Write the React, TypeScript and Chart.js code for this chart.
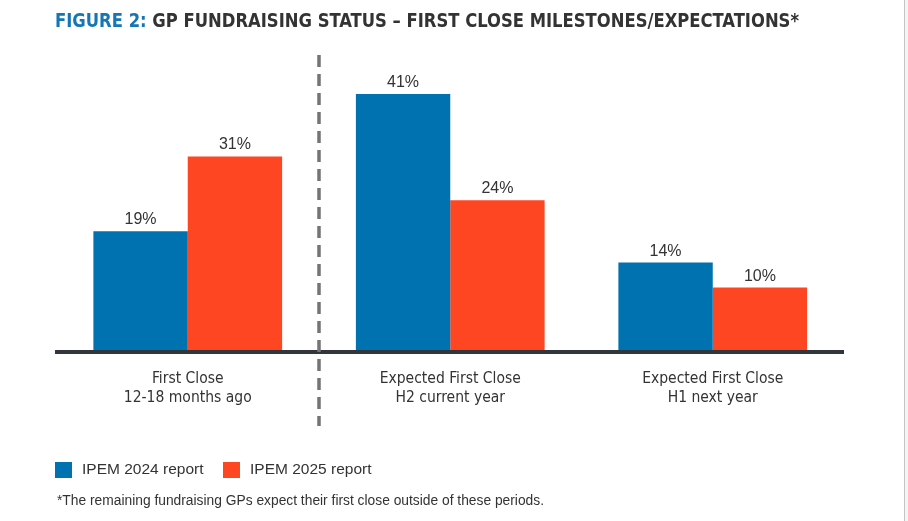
import React, { useEffect, useRef } from "react";
import { Chart, registerables } from "chart.js";

Chart.register(...registerables);

const categories: string[][] = [
  ["First Close", "12-18 months ago"],
  ["Expected First Close", "H2 current year"],
  ["Expected First Close", "H1 next year"],
];
const series2024: number[] = [19, 41, 14];
const series2025: number[] = [31, 24, 10];
const seriesNames: string[] = ["IPEM 2024 report", "IPEM 2025 report"];
const titleLead = "FIGURE 2:";
const titleRest = " GP FUNDRAISING STATUS \u2013 FIRST CLOSE MILESTONES/EXPECTATIONS*";
const footnote = "*The remaining fundraising GPs expect their first close outside of these periods.";

const BLUE = "#0072B0";
const ORANGE = "#FF4622";
const DARK = "#333333";
const NARROW = '"Liberation Sans Narrow", "DejaVu Sans Condensed", "Liberation Sans", sans-serif';
const SANS = '"Liberation Sans", Arial, sans-serif';

const decorPlugin = {
  id: "decor",
  afterDraw(chart: any) {
    const ctx = chart.ctx as CanvasRenderingContext2D;
    const area = chart.chartArea;
    const xs = chart.scales.x;
    ctx.save();

    // right edge
    ctx.fillStyle = "#f4f4f4";
    ctx.fillRect(905, 0, 3, chart.height);
    ctx.fillStyle = "#c4c4c4";
    ctx.fillRect(904, 0, 1, chart.height);

    // baseline
    ctx.fillStyle = "#31353D";
    ctx.fillRect(area.left - 1.5, area.bottom, area.right - area.left + 1.5, 4);

    // dashed divider
    const dx = (xs.getPixelForValue(0) + xs.getPixelForValue(1)) / 2;
    ctx.strokeStyle = "#747474";
    ctx.lineWidth = 3.5;
    ctx.setLineDash([12, 7]);
    ctx.beginPath();
    ctx.moveTo(dx, 55);
    ctx.lineTo(dx, 426);
    ctx.stroke();
    ctx.setLineDash([]);

    // value labels
    ctx.font = `16px ${SANS}`;
    ctx.fillStyle = DARK;
    ctx.textAlign = "center";
    ctx.textBaseline = "alphabetic";
    chart.data.datasets.forEach((ds: any, di: number) => {
      const meta = chart.getDatasetMeta(di);
      meta.data.forEach((bar: any, i: number) => {
        ctx.fillText(`${ds.data[i]}%`, bar.x, bar.y - 7);
      });
    });

    // title
    ctx.textAlign = "left";
    ctx.font = `bold 19px ${NARROW}`;
    const w1 = ctx.measureText(titleLead).width;
    const w2 = ctx.measureText(titleRest).width;
    const sx = 744 / (w1 + w2);
    ctx.save();
    ctx.translate(55, 27);
    ctx.scale(sx, 1);
    ctx.fillStyle = "#1576B5";
    ctx.fillText(titleLead, 0, 0);
    ctx.fillStyle = DARK;
    ctx.fillText(titleRest, w1, 0);
    ctx.restore();

    // legend
    ctx.font = `15.5px ${SANS}`;
    ctx.textBaseline = "middle";
    const legendX = [55, 223];
    chart.data.datasets.forEach((ds: any, di: number) => {
      const x = legendX[di];
      ctx.fillStyle = ds.backgroundColor;
      ctx.fillRect(x, 462, 17, 16);
      ctx.fillStyle = DARK;
      ctx.fillText(ds.label, x + 27, 470);
    });

    // footnote
    ctx.font = `13.8px ${SANS}`;
    ctx.textBaseline = "alphabetic";
    ctx.fillStyle = DARK;
    ctx.fillText(footnote, 57, 505);

    ctx.restore();
  },
};

export default function App() {
  const ref = useRef<HTMLCanvasElement | null>(null);
  useEffect(() => {
    if (!ref.current) return;
    const chart = new Chart(ref.current, {
      type: "bar",
      data: {
        labels: categories,
        datasets: [
          { label: seriesNames[0], data: series2024, backgroundColor: BLUE },
          { label: seriesNames[1], data: series2025, backgroundColor: ORANGE },
        ],
      },
      options: {
        responsive: false,
        animation: false,
        devicePixelRatio: 1,
        layout: { padding: { top: 69, left: 56.5, right: 64, bottom: 111 } },
        datasets: { bar: { categoryPercentage: 0.719, barPercentage: 1, borderWidth: 0 } } as any,
        plugins: { legend: { display: false }, title: { display: false }, tooltip: { enabled: false } },
        scales: {
          x: {
            grid: { display: false, drawTicks: false },
            border: { display: false },
            ticks: {
              color: DARK,
              padding: 19,
              font: { family: NARROW, size: 15.5, lineHeight: 1.23 },
              maxRotation: 0,
              autoSkip: false,
            },
            afterFit: (s: any) => {
              s.height = 60;
            },
          },
          y: { display: false, min: 0, max: 45 },
        },
      },
      plugins: [decorPlugin],
    });
    return () => chart.destroy();
  }, []);
  return (
    <div style={{ position: "absolute", left: 0, top: 0, width: 908, height: 521, background: "#fff" }}>
      <canvas ref={ref} width={908} height={521} style={{ display: "block" }} />
    </div>
  );
}
